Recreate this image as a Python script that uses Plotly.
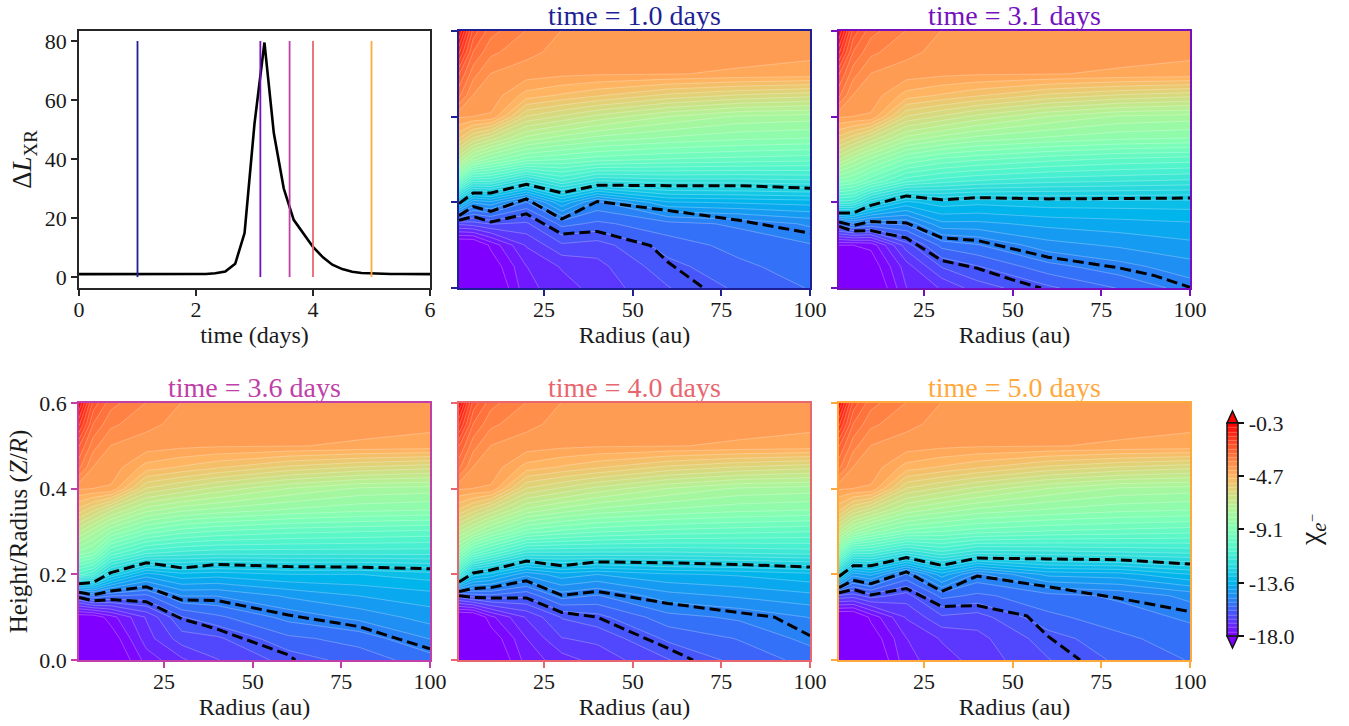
import plotly.graph_objects as go

W, H = 1349, 726

# ---------- light curve ----------
TIME = [0, 1, 2.0, 2.17, 2.33, 2.5, 2.67, 2.83, 3.0, 3.17, 3.33, 3.5, 3.67, 3.83, 4.0, 4.17, 4.33, 4.5, 4.67, 4.83, 5.0, 5.17, 5.33, 5.5, 6]
LXR = [1, 1, 1.0, 1.05, 1.3, 1.9, 4.5, 14.9, 52, 79.5, 48.8, 30, 19.4, 14.9, 10.2, 6.7, 4.2, 2.7, 1.8, 1.4, 1.2, 1.1, 1.05, 1.02, 1]
SNAP_TIMES = [1.0, 3.1, 3.6, 4.0, 5.0]
SNAP_COLORS = ["#1f1f96", "#7410bf", "#c03fa8", "#e8666e", "#ffa83c"]
SNAP_TITLES = ["time = 1.0 days", "time = 3.1 days", "time = 3.6 days", "time = 4.0 days", "time = 5.0 days"]

# ---------- field grid ----------
RADIUS = [1, 5, 10, 20, 30, 40, 60, 80, 100]
HEIGHT = [0, 0.05, 0.10, 0.15, 0.20, 0.25, 0.30, 0.35, 0.40, 0.45, 0.50, 0.55, 0.60]

ROW_40 = [-4.15, -4.2, -4.25, -6.0, -6.4, -6.8, -7.4, -7.8, -7.9]
ROW_45 = [-3.05, -3.85, -3.95, -4.7, -4.95, -5.2, -5.7, -6.0, -6.2]
ROW_50 = [-2.4, -3.35, -3.85, -4.0, -4.1, -4.15, -4.17, -4.25, -4.3]
ROW_55 = [-1.3, -2.8, -3.4, -3.75, -3.95, -4.0, -4.0, -4.05, -4.13]
ROW_60 = [-0.3, -2.2, -3.0, -3.5, -3.85, -3.95, -3.95, -3.95, -4.0]

FIELD_T10 = [
    [-19.0, -19.0, -18.6, -17.4, -17.1, -16.8, -16.25, -15.8, -15.5],
    [-19.0, -19.0, -18.3, -17.3, -16.9, -16.7, -16.0, -15.6, -15.35],
    [-18.6, -18.6, -17.9, -16.9, -16.3, -16.4, -15.7, -15.4, -15.2],
    [-16.5, -16.4, -16.2, -16.3, -15.4, -15.6, -15.3, -15.1, -14.75],
    [-13.2, -14.4, -14.2, -15.2, -13.8, -14.9, -13.8, -13.7, -13.6],
    [-9.8, -11.2, -11.2, -12.2, -11.3, -12.0, -11.8, -11.8, -11.7],
    [-7.0, -8.0, -8.6, -9.3, -9.5, -9.7, -9.9, -10.0, -10.1],
    [-5.2, -6.0, -6.5, -7.5, -7.9, -8.2, -8.5, -8.7, -8.8],
    ROW_40, ROW_45, ROW_50, ROW_55, ROW_60,
]
FIELD_T31 = [
    [-19.0, -19.0, -18.6, -17.3, -16.9, -16.4, -15.95, -15.5, -15.0],
    [-19.0, -19.0, -18.3, -17.1, -16.2, -15.9, -15.3, -14.95, -14.6],
    [-18.0, -18.0, -17.9, -16.4, -15.4, -15.2, -14.6, -14.4, -14.2],
    [-15.3, -14.9, -15.2, -15.1, -14.2, -14.2, -14.0, -13.9, -13.8],
    [-11.4, -11.5, -12.5, -13.5, -13.2, -13.3, -13.2, -13.2, -13.2],
    [-9.0, -9.2, -9.8, -10.8, -11.1, -11.3, -11.5, -11.6, -11.7],
    [-7.0, -7.6, -8.2, -9.2, -9.6, -9.8, -10.1, -10.3, -10.4],
    [-5.4, -5.8, -6.4, -7.5, -7.9, -8.2, -8.5, -8.7, -8.8],
    ROW_40, ROW_45, ROW_50, ROW_55, ROW_60,
]
FIELD_T36 = [
    [-19.0, -19.0, -18.6, -17.5, -17.0, -16.6, -16.1, -15.7, -15.35],
    [-19.0, -19.0, -18.3, -17.1, -16.4, -16.3, -15.6, -15.4, -14.8],
    [-18.3, -18.3, -17.8, -16.9, -15.9, -15.6, -15.05, -14.7, -14.3],
    [-15.7, -15.2, -15.5, -15.6, -14.8, -14.8, -14.4, -14.1, -13.9],
    [-10.8, -11.2, -12.7, -13.9, -13.5, -13.6, -13.4, -13.4, -13.2],
    [-8.6, -8.9, -10.3, -11.2, -11.4, -11.5, -11.5, -11.5, -11.5],
    [-7.0, -7.6, -8.4, -9.3, -9.7, -9.9, -10.1, -10.2, -10.3],
    [-5.4, -5.9, -6.6, -7.6, -8.0, -8.2, -8.5, -8.7, -8.8],
    ROW_40, ROW_45, ROW_50, ROW_55, ROW_60,
]
FIELD_T40 = [
    [-19.0, -19.0, -18.6, -17.5, -17.1, -16.8, -16.25, -15.75, -15.4],
    [-19.0, -19.0, -18.3, -17.3, -16.6, -16.5, -15.8, -15.5, -15.05],
    [-18.6, -18.6, -17.75, -16.9, -16.2, -16.0, -15.3, -15.1, -14.8],
    [-16.0, -15.7, -15.6, -15.8, -15.0, -15.2, -14.6, -14.4, -14.2],
    [-11.4, -13.2, -13.5, -14.35, -13.9, -14.1, -13.8, -13.7, -13.5],
    [-8.8, -10.0, -10.6, -11.7, -11.7, -11.7, -11.7, -11.6, -11.5],
    [-7.0, -7.6, -8.3, -9.3, -9.6, -9.8, -10.0, -10.1, -10.2],
    [-5.3, -5.8, -6.4, -7.5, -7.9, -8.2, -8.5, -8.7, -8.8],
    ROW_40, ROW_45, ROW_50, ROW_55, ROW_60,
]
FIELD_T50 = [
    [-19.0, -19.0, -18.6, -17.4, -17.1, -16.8, -16.25, -15.8, -15.5],
    [-19.0, -19.0, -18.3, -17.3, -16.9, -16.7, -16.05, -15.6, -15.35],
    [-18.6, -18.6, -17.9, -16.9, -16.3, -16.4, -15.6, -15.35, -15.1],
    [-16.3, -16.4, -16.05, -16.4, -15.4, -15.6, -15.3, -15.1, -14.7],
    [-12.6, -14.3, -14.0, -15.2, -13.9, -14.9, -14.0, -13.9, -13.4],
    [-9.5, -11.2, -11.2, -12.0, -11.4, -11.9, -11.8, -11.7, -11.6],
    [-7.0, -8.0, -8.6, -9.3, -9.5, -9.7, -9.9, -10.0, -10.1],
    [-5.2, -6.0, -6.5, -7.5, -7.9, -8.2, -8.5, -8.7, -8.8],
    ROW_40, ROW_45, ROW_50, ROW_55, ROW_60,
]
FIELDS = [FIELD_T10, FIELD_T31, FIELD_T36, FIELD_T40, FIELD_T50]

# ---------- dashed contours ----------
DASH_R = RADIUS
T10_D1 = [.197, .222, .222, .242, .222, .240, .239, .239, .233]
T10_D2 = [.169, .190, .179, .208, .161, .202, .181, .158, .128]
T10_D3_R = [1, 5, 10, 20, 30, 40, 55, 60, 70]
T10_D3 = [.158, .167, .154, .173, .126, .132, .099, .060, 0]
T31_D1 = [.175, .175, .193, .215, .206, .211, .208, .209, .210]
T31_D2_R = [1, 5, 10, 20, 30, 40, 60, 80, 90, 100]
T31_D2 = [.154, .146, .155, .152, .117, .111, .072, .047, .029, .0015]
T31_D3_R = [1, 5, 10, 20, 30, 40, 50, 58]
T31_D3 = [.144, .133, .134, .117, .064, .046, .019, 0]
T36_D1 = [.178, .181, .204, .227, .215, .223, .218, .217, .213]
T36_D2 = [.158, .152, .161, .171, .140, .139, .105, .078, .026]
T36_D3_R = [1, 5, 10, 20, 30, 40, 60, 62]
T36_D3 = [.146, .138, .141, .136, .096, .072, .012, 0]
T40_D1 = [.182, .203, .210, .231, .220, .229, .227, .223, .217]
T40_D2_R = [1, 5, 10, 20, 30, 40, 60, 80, 90, 100]
T40_D2 = [.160, .167, .169, .185, .151, .160, .132, .111, .100, .057]
T40_D3_R = [1, 5, 10, 20, 30, 40, 60, 67]
T40_D3 = [.150, .146, .145, .145, .111, .100, .027, 0]
T50_D1 = [.195, .220, .220, .239, .221, .238, .236, .234, .224]
T50_D2 = [.169, .186, .178, .206, .160, .196, .171, .144, .113]
T50_D3_R = [1, 5, 10, 20, 30, 40, 54, 60, 69]
T50_D3 = [.157, .165, .152, .167, .125, .127, .103, .055, 0]
DASHES = [
    [(DASH_R, T10_D1), (DASH_R, T10_D2), (T10_D3_R, T10_D3)],
    [(DASH_R, T31_D1), (T31_D2_R, T31_D2), (T31_D3_R, T31_D3)],
    [(DASH_R, T36_D1), (DASH_R, T36_D2), (T36_D3_R, T36_D3)],
    [(DASH_R, T40_D1), (T40_D2_R, T40_D2), (T40_D3_R, T40_D3)],
    [(DASH_R, T50_D1), (DASH_R, T50_D2), (T50_D3_R, T50_D3)],
]

CB_TICKVALS = [-18.0, -13.6, -9.1, -4.7, -0.3]
CB_TICKTEXT = ["-18.0", "-13.6", "-9.1", "-4.7", "-0.3"]
RAINBOW = [
    [0.0, "rgb(128,0,255)"], [0.1, "rgb(76,79,252)"], [0.2, "rgb(26,150,243)"],
    [0.25, "rgb(0,180,236)"], [0.3, "rgb(26,206,227)"], [0.4, "rgb(77,243,206)"],
    [0.5, "rgb(128,255,180)"], [0.6, "rgb(179,243,150)"], [0.7, "rgb(230,206,116)"],
    [0.75, "rgb(255,180,98)"], [0.8, "rgb(255,150,79)"], [0.9, "rgb(255,79,40)"], [1.0, "rgb(255,0,0)"],
]

FONT = "Liberation Serif"
TXT = "#1a1a1a"
TICK_SIZE = 22
LABEL_SIZE = 24
TITLE_SIZE = 28


def px(x):
    return x / W


def py(y):
    return 1 - y / H


BOXES = [
    (79, 430, 31, 288), (459, 810, 31, 288), (839, 1190, 31, 288),
    (79, 430, 403, 660), (459, 810, 403, 660), (839, 1190, 403, 660),
]

fig = go.Figure()
layout = {}
ann = []

for i, (x0, x1, y0, y1) in enumerate(BOXES):
    n = "" if i == 0 else str(i + 1)
    col = "#262626" if i == 0 else SNAP_COLORS[i - 1]
    xa = dict(domain=[px(x0), px(x1)], anchor="y" + n, showgrid=False, zeroline=False,
              showline=True, mirror=True, linecolor=col, linewidth=1.5,
              ticks="outside", ticklen=6, tickwidth=1.5, tickcolor=col, ticklabelstandoff=-5,
              tickfont=dict(family=FONT, size=TICK_SIZE, color=TXT))
    ya = dict(domain=[py(y1), py(y0)], anchor="x" + n, showgrid=False, zeroline=False,
              showline=True, mirror=True, linecolor=col, linewidth=1.5,
              ticks="outside", ticklen=6, tickwidth=1.5, tickcolor=col,
              tickfont=dict(family=FONT, size=TICK_SIZE, color=TXT))
    if i == 0:
        xa.update(range=[0, 6], tickvals=[0, 2, 4, 6])
        xa["title"] = dict(text="time (days)", font=dict(family=FONT, size=LABEL_SIZE, color=TXT), standoff=2)
        ya.update(range=[-3.7, 83.4], tickvals=[0, 20, 40, 60, 80])
        ya["title"] = dict(text="Δ<i>L</i><sub>XR</sub>", font=dict(family=FONT, size=27, color=TXT), standoff=5)
    else:
        xa.update(range=[1, 100], tickvals=[25, 50, 75, 100])
        xa["title"] = dict(text="Radius (au)", font=dict(family=FONT, size=LABEL_SIZE, color=TXT), standoff=2)
        ya.update(range=[0, 0.6], tickvals=[0, 0.2, 0.4, 0.6], tickformat=".1f")
        if i == 3:
            ya["title"] = dict(text="Height/Radius (<i>Z</i>/<i>R</i>)", font=dict(family=FONT, size=25, color=TXT), standoff=5)
        else:
            ya["showticklabels"] = False
        ann.append(dict(text=SNAP_TITLES[i - 1], x=px((x0 + x1) / 2), y=py(y0 - 16), xref="paper", yref="paper",
                        xanchor="center", yanchor="middle", showarrow=False, borderpad=0,
                        font=dict(family=FONT, size=TITLE_SIZE, color=col)))
    layout["xaxis" + n] = xa
    layout["yaxis" + n] = ya

# Light curve panel
fig.add_trace(go.Scatter(x=TIME, y=LXR, mode="lines", line=dict(color="black", width=2.6), showlegend=False,
                         xaxis="x", yaxis="y"))
for t, c in zip(SNAP_TIMES, SNAP_COLORS):
    fig.add_trace(go.Scatter(x=[t, t], y=[0, 80], mode="lines", line=dict(color=c, width=1.8), showlegend=False,
                             xaxis="x", yaxis="y"))

# Contour panels
for k, field in enumerate(FIELDS):
    n = str(k + 2)
    is_last = k == len(FIELDS) - 1
    fig.add_trace(go.Contour(
        x=RADIUS, y=HEIGHT, z=field, xaxis="x" + n, yaxis="y" + n,
        colorscale=RAINBOW, zmin=-18, zmax=-0.3, autocontour=False,
        contours=dict(start=-18, end=-0.3, size=0.354, coloring="fill", showlines=True),
        line=dict(color="rgba(255,255,255,0.45)", width=0.6, smoothing=0),
        showscale=is_last,
        colorbar=dict(x=px(1227), xanchor="left", xpad=0, ypad=0, y=py(529.5), yanchor="middle",
                      len=213 / H, lenmode="fraction", thickness=11, thicknessmode="pixels",
                      outlinecolor="#111111", outlinewidth=1.5, tickmode="array",
                      tickvals=CB_TICKVALS, ticktext=CB_TICKTEXT, ticks="outside", ticklen=6, tickwidth=1.5,
                      tickcolor="#111111", tickfont=dict(family=FONT, size=TICK_SIZE, color=TXT)),
        hoverinfo="skip",
    ))
    for xs, ys in DASHES[k]:
        fig.add_trace(go.Scatter(x=xs, y=ys, mode="lines", showlegend=False, xaxis="x" + n, yaxis="y" + n,
                                 line=dict(color="black", width=3, dash="11px,5px")))

ann.append(dict(text="χ<sub><i>e</i><sup>−</sup></sub>", x=px(1312), y=py(530), xref="paper", yref="paper",
                textangle=-90, showarrow=False, xanchor="center", yanchor="middle",
                font=dict(family=FONT, size=30, color=TXT)))

shapes = [
    dict(type="path", xref="paper", yref="paper",
         path=f"M {px(1227)} {py(423)} L {px(1238)} {py(423)} L {px(1232.5)} {py(411)} Z",
         fillcolor="rgb(255,0,0)", line=dict(color="#111111", width=1.5)),
    dict(type="path", xref="paper", yref="paper",
         path=f"M {px(1227)} {py(636)} L {px(1238)} {py(636)} L {px(1232.5)} {py(648)} Z",
         fillcolor="rgb(128,0,255)", line=dict(color="#111111", width=1.5)),
]

fig.update_layout(width=W, height=H, margin=dict(l=0, r=0, t=0, b=0, autoexpand=False),
                  paper_bgcolor="white", plot_bgcolor="white", showlegend=False,
                  annotations=ann, shapes=shapes, **layout)

fig.write_html("out.html", config={"displayModeBar": False},
               post_script="document.body.style.margin='0';document.documentElement.style.overflow='hidden';")
